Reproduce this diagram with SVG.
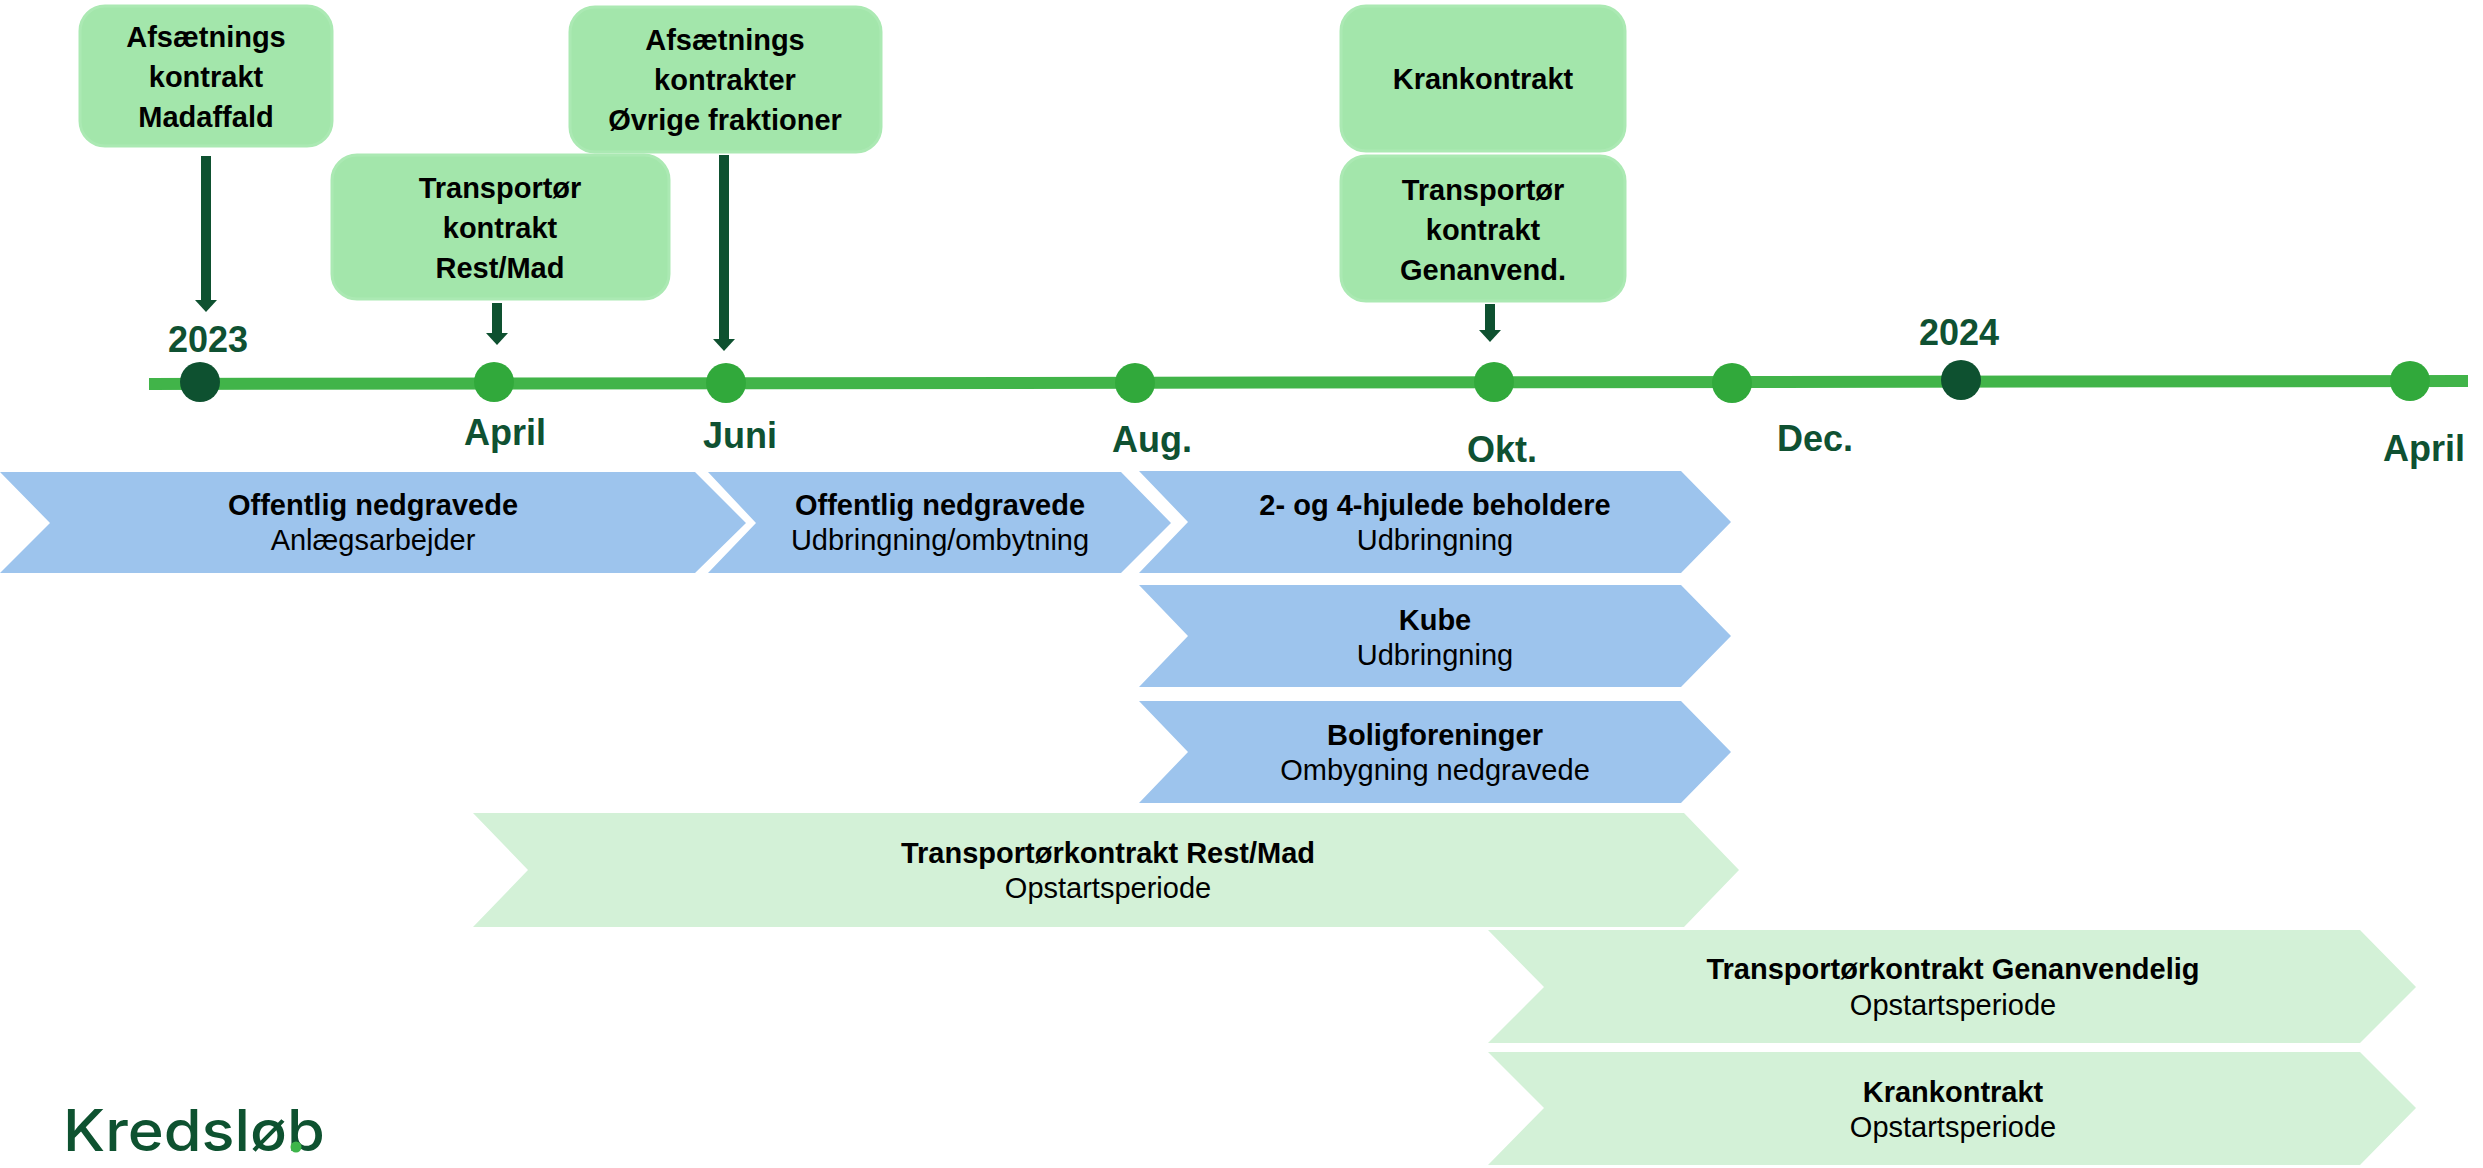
<svg xmlns="http://www.w3.org/2000/svg" width="2483" height="1168" viewBox="0 0 2483 1168">
<style>
  text { font-family: "Liberation Sans", Arial, sans-serif; text-anchor: middle; }
  .box { fill: #a3e6ab; stroke: #abe9b3; stroke-width: 3; }
  .bt { font-size: 29px; font-weight: bold; fill: #000; }
  .rt { font-size: 29px; fill: #000; }
  .blue { fill: #9dc4ed; }
  .pale { fill: #d3f1d7; }
  .month { font-size: 36px; font-weight: bold; fill: #0f5132; }
  .dot { fill: #31a93b; }
  .ydot { fill: #0e5130; }
  .conn { stroke: #0e5130; stroke-width: 10; fill: none; }
</style>
<defs>
  <marker id="ah" markerUnits="userSpaceOnUse" markerWidth="12" markerHeight="22" viewBox="0 0 12 22" refX="1" refY="11" orient="auto">
    <path d="M0,0 L12,11 L0,22 z" fill="#0e5130"/>
  </marker>
</defs>
<rect width="2483" height="1168" fill="#ffffff"/>

<g id="timeline">
  <line x1="149" y1="384" x2="2468" y2="381" stroke="#41b449" stroke-width="12"/>
  <circle class="ydot" cx="200" cy="382" r="20"/>
  <circle class="dot" cx="494" cy="382" r="20"/>
  <circle class="dot" cx="726" cy="383" r="20"/>
  <circle class="dot" cx="1135" cy="383" r="20"/>
  <circle class="dot" cx="1494" cy="382" r="20"/>
  <circle class="dot" cx="1732" cy="383" r="20"/>
  <circle class="ydot" cx="1961" cy="380" r="20"/>
  <circle class="dot" cx="2410" cy="381" r="20"/>
  <text class="month" x="208" y="352">2023</text>
  <text class="month" x="1959" y="345">2024</text>
  <text class="month" x="505" y="445">April</text>
  <text class="month" x="740" y="448">Juni</text>
  <text class="month" x="1152" y="452">Aug.</text>
  <text class="month" x="1502" y="462">Okt.</text>
  <text class="month" x="1815" y="451">Dec.</text>
  <text class="month" x="2424" y="461">April</text>
</g>

<g id="box-afsaetning-mad">
  <rect class="box" x="80" y="6" width="252" height="140" rx="25"/>
  <text class="bt" x="206" y="47">Afsætnings</text>
  <text class="bt" x="206" y="87">kontrakt</text>
  <text class="bt" x="206" y="127">Madaffald</text>
</g>
<g id="box-transport-restmad">
  <rect class="box" x="332" y="155" width="337" height="144" rx="25"/>
  <text class="bt" x="500" y="198">Transportør</text>
  <text class="bt" x="500" y="238">kontrakt</text>
  <text class="bt" x="500" y="278">Rest/Mad</text>
</g>
<g id="box-afsaetning-ovrige">
  <rect class="box" x="570" y="7" width="311" height="145" rx="25"/>
  <text class="bt" x="725" y="50">Afsætnings</text>
  <text class="bt" x="725" y="90">kontrakter</text>
  <text class="bt" x="725" y="130">Øvrige fraktioner</text>
</g>
<g id="box-krankontrakt">
  <rect class="box" x="1341" y="6" width="284" height="145" rx="25"/>
  <text class="bt" x="1483" y="89">Krankontrakt</text>
</g>
<g id="box-transport-genanvend">
  <rect class="box" x="1341" y="156" width="284" height="145" rx="25"/>
  <text class="bt" x="1483" y="200">Transportør</text>
  <text class="bt" x="1483" y="240">kontrakt</text>
  <text class="bt" x="1483" y="280">Genanvend.</text>
</g>

<g id="connectors">
  <line class="conn" x1="206" y1="156" x2="206" y2="301" marker-end="url(#ah)"/>
  <line class="conn" x1="497" y1="303" x2="497" y2="334" marker-end="url(#ah)"/>
  <line class="conn" x1="724" y1="155" x2="724" y2="340" marker-end="url(#ah)"/>
  <line class="conn" x1="1490" y1="304" x2="1490" y2="331" marker-end="url(#ah)"/>
</g>

<g id="phase-offentlig-anlaeg">
  <polygon class="blue" points="0,472 695,472 746,523 695,573 0,573 50,523"/>
  <text class="bt" x="373" y="515">Offentlig nedgravede</text>
  <text class="rt" x="373" y="550">Anlægsarbejder</text>
</g>
<g id="phase-offentlig-udbringning">
  <polygon class="blue" points="708,472 1121,472 1171,523 1121,573 708,573 756,523"/>
  <text class="bt" x="940" y="515">Offentlig nedgravede</text>
  <text class="rt" x="940" y="550">Udbringning/ombytning</text>
</g>
<g id="phase-hjulede">
  <polygon class="blue" points="1139,471 1681,471 1731,522 1681,573 1139,573 1188,522"/>
  <text class="bt" x="1435" y="515">2- og 4-hjulede beholdere</text>
  <text class="rt" x="1435" y="550">Udbringning</text>
</g>
<g id="phase-kube">
  <polygon class="blue" points="1139,585 1681,585 1731,636 1681,687 1139,687 1188,636"/>
  <text class="bt" x="1435" y="630">Kube</text>
  <text class="rt" x="1435" y="665">Udbringning</text>
</g>
<g id="phase-boligforeninger">
  <polygon class="blue" points="1139,701 1681,701 1731,752 1681,803 1139,803 1188,752"/>
  <text class="bt" x="1435" y="745">Boligforeninger</text>
  <text class="rt" x="1435" y="780">Ombygning nedgravede</text>
</g>
<g id="phase-transport-restmad">
  <polygon class="pale" points="473,813 1684,813 1739,870 1684,927 473,927 528,870"/>
  <text class="bt" x="1108" y="863">Transportørkontrakt Rest/Mad</text>
  <text class="rt" x="1108" y="898">Opstartsperiode</text>
</g>
<g id="phase-transport-genanvendelig">
  <polygon class="pale" points="1488,930 2360,930 2416,987 2360,1043 1488,1043 1544,987"/>
  <text class="bt" x="1953" y="979">Transportørkontrakt Genanvendelig</text>
  <text class="rt" x="1953" y="1015">Opstartsperiode</text>
</g>
<g id="phase-krankontrakt">
  <polygon class="pale" points="1488,1052 2360,1052 2416,1108 2360,1165 1488,1165 1544,1108"/>
  <text class="bt" x="1953" y="1102">Krankontrakt</text>
  <text class="rt" x="1953" y="1137">Opstartsperiode</text>
</g>

<g id="logo">
  <text x="63" y="1151" textLength="262" lengthAdjust="spacingAndGlyphs" style="font-family: Inter, 'Noto Sans', sans-serif; font-size: 57px; font-weight: 500; fill: #0e5230; text-anchor: start;">Kredsløb</text>
  <circle cx="296" cy="1147" r="5.5" fill="#3db54a"/>
</g>
</svg>
